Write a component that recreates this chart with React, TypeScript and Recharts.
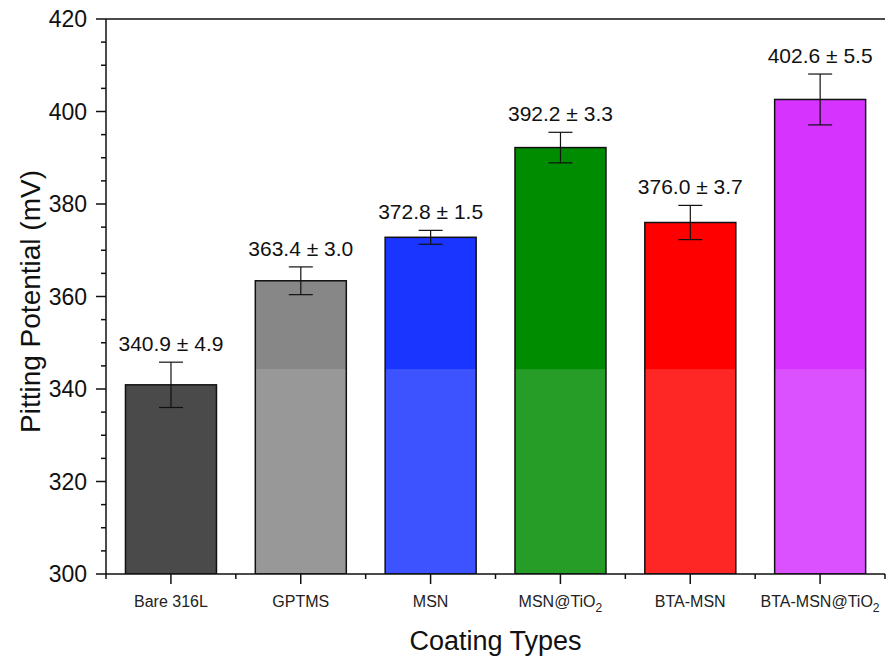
import React from "react";
import {
  BarChart,
  Bar,
  XAxis,
  YAxis,
  Cell,
  ErrorBar,
  LabelList,
  ReferenceLine,
} from "recharts";

const categories = ["Bare 316L", "GPTMS", "MSN", "MSN@TiO2", "BTA-MSN", "BTA-MSN@TiO2"];
const potentials = [340.9, 363.4, 372.8, 392.2, 376.0, 402.6];
const errors = [4.9, 3.0, 1.5, 3.3, 3.7, 5.5];
const valueLabels = ["340.9 ± 4.9", "363.4 ± 3.0", "372.8 ± 1.5", "392.2 ± 3.3", "376.0 ± 3.7", "402.6 ± 5.5"];
const barColors = ["#2b2b2b", "#878787", "#1a35ff", "#008c00", "#ff0000", "#d633ff"];
const yMajorTicks = [300, 320, 340, 360, 380, 400, 420];
const yMinorStep = 5;
// lower part of the figure is washed out (lighter) below this value
const fadeBelow = 344.3;

const FONT = "'Liberation Sans', Arial, sans-serif";
const W = 888;
const H = 660;
const PLOT_LEFT = 106;
const PLOT_RIGHT = 3;
const bandWidth = (W - PLOT_LEFT - PLOT_RIGHT) / categories.length;

const data = categories.map((name, i) => ({
  name,
  value: potentials[i],
  err: errors[i],
  label: valueLabels[i],
}));

// all y ticks (majors + minors every 5 mV)
const yTicks: number[] = [];
for (let v = yMajorTicks[0]; v <= yMajorTicks[yMajorTicks.length - 1]; v += yMinorStep) yTicks.push(v);

const YTick = (props: any) => {
  const { x, y, payload } = props;
  const major = yMajorTicks.includes(payload.value);
  return (
    <g>
      <line x1={x - (major ? 10 : 5)} x2={x} y1={y} y2={y} stroke="#111" strokeWidth={1.5} />
      {major && (
        <text x={x - 19} y={y} textAnchor="end" dominantBaseline="central" fontSize={23} fontFamily={FONT} fill="#111">
          {payload.value}
        </text>
      )}
    </g>
  );
};

const XTick = (props: any) => {
  const { x, y, payload, index } = props;
  const name: string = payload.value;
  const sub = name.endsWith("TiO2");
  const last = index === categories.length - 1;
  return (
    <g>
      <line x1={x} x2={x} y1={y} y2={y + 10} stroke="#111" strokeWidth={1.5} />
      <line x1={x - bandWidth / 2} x2={x - bandWidth / 2} y1={y} y2={y + 5} stroke="#111" strokeWidth={1.5} />
      {last && <line x1={x + bandWidth / 2} x2={x + bandWidth / 2} y1={y} y2={y + 5} stroke="#111" strokeWidth={1.5} />}
      <text x={x} y={y + 33} textAnchor="middle" fontSize={16} fontFamily={FONT} fill="#222">
        {sub ? (
          <>
            <tspan>{name.slice(0, -1)}</tspan>
            <tspan fontSize={12} dy={5}>2</tspan>
          </>
        ) : (
          name
        )}
      </text>
    </g>
  );
};

const FadedBar = (props: any) => {
  const { x, y, width, height, fill, index, value } = props;
  const i = index ?? 0;
  const v = Array.isArray(value) ? value[1] : potentials[i];
  const k = height / (v - yMajorTicks[0]);
  const bottom = y + height;
  const fadeTop = Math.max(y, bottom - (fadeBelow - yMajorTicks[0]) * k);
  return (
    <g>
      <rect x={x} y={y} width={width} height={height} fill={fill} />
      <rect x={x} y={fadeTop} width={width} height={bottom - fadeTop} fill="#ffffff" fillOpacity={0.15} />
      <rect x={x} y={y} width={width} height={height} fill="none" stroke="#111" strokeWidth={1.5} />
    </g>
  );
};

const ValueLabel = (props: any) => {
  const { x, y, width, height, index, value } = props;
  const i = index ?? potentials.indexOf(value);
  const k = height / (potentials[i] - yMajorTicks[0]);
  const top = y - errors[i] * k;
  return (
    <text x={x + width / 2} y={top - 11} textAnchor="middle" fontSize={21} fontFamily={FONT} fill="#111">
      {valueLabels[i]}
    </text>
  );
};

const YTitle = (props: any) => {
  const { viewBox } = props;
  const cx = 40;
  const cy = viewBox.y + viewBox.height / 2 + 5;
  return (
    <text x={cx} y={cy} transform={`rotate(-90, ${cx}, ${cy})`} textAnchor="middle" fontSize={28} fontFamily={FONT} fill="#111">
      Pitting Potential (mV)
    </text>
  );
};

const XTitle = (props: any) => {
  const { viewBox } = props;
  return (
    <text x={viewBox.x + viewBox.width / 2} y={viewBox.y + 76} textAnchor="middle" fontSize={27} fontFamily={FONT} fill="#111">
      Coating Types
    </text>
  );
};

export default function App() {
  return (
    <div style={{ position: "absolute", left: 0, top: 0, background: "#fff" }}>
      <BarChart
        width={W}
        height={H}
        data={data}
        margin={{ top: 19, right: PLOT_RIGHT, left: 0, bottom: 0 }}
        barCategoryGap="15%"
      >
        <XAxis
          dataKey="name"
          height={86}
          interval={0}
          tickLine={false}
          tickSize={0}
          tickMargin={0}
          axisLine={{ stroke: "#111", strokeWidth: 1.5 }}
          tick={<XTick />}
          label={<XTitle />}
        />
        <YAxis
          width={PLOT_LEFT}
          domain={[300, 420]}
          ticks={yTicks}
          interval={0}
          tickLine={false}
          tickSize={0}
          tickMargin={0}
          axisLine={{ stroke: "#111", strokeWidth: 1.5 }}
          tick={<YTick />}
          label={<YTitle />}
          allowDataOverflow
        />
        <YAxis
          yAxisId="r"
          orientation="right"
          width={0}
          domain={[300, 420]}
          tick={false}
          tickLine={false}
          axisLine={{ stroke: "#111", strokeWidth: 1.5 }}
        />
        <ReferenceLine y={420} stroke="#111" strokeWidth={1.5} />
        <Bar dataKey="value" isAnimationActive={false} shape={<FadedBar />}>
          {data.map((d, i) => (
            <Cell key={d.name} fill={barColors[i]} />
          ))}
          <ErrorBar dataKey="err" width={12} stroke="#111" strokeWidth={1.2} direction="y" />
          <LabelList dataKey="value" content={<ValueLabel />} />
        </Bar>
      </BarChart>
    </div>
  );
}
